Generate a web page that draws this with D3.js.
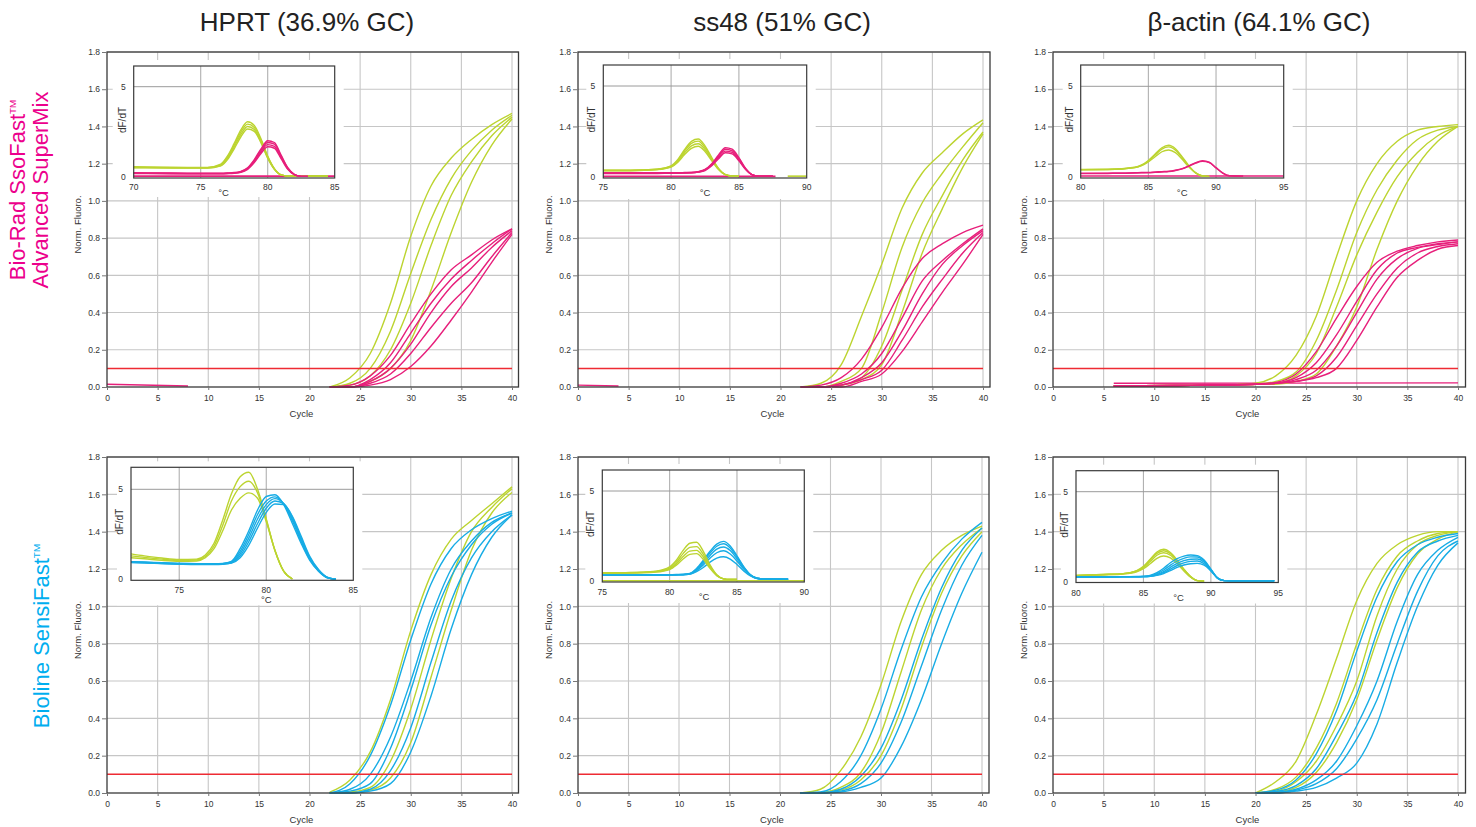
<!DOCTYPE html>
<html><head><meta charset="utf-8">
<script src="https://cdn.jsdelivr.net/npm/d3@7"></script>
<style>
html,body{margin:0;padding:0;background:#fff;}
svg{display:block;font-family:"Liberation Sans",Arial,Helvetica,sans-serif;}
</style></head><body>
<svg id="chart" width="1476" height="827"></svg>
<script>
// ================= DATA =================
const columnTitles = ["HPRT (36.9% GC)", "ss48 (51% GC)", "β-actin (64.1% GC)"];
const rowLabelTop = ["Bio-Rad SsoFast", "Advanced SuperMix"];
const rowLabelBottom = ["Bioline SensiFast"];
const xTicks = [0, 5, 10, 15, 20, 25, 30, 35, 40];
const yTicks = [0, 0.2, 0.4, 0.6, 0.8, 1.0, 1.2, 1.4, 1.6, 1.8];
const insetYTicks = [0, 5];
const threshold = 0.1;

// amplification cycles
const cyclesStd = [22, 24, 26, 28, 30, 32, 34, 36, 38, 40];
const cyclesActinTop = [6, 12, 18, 20, 22, 24, 26, 28, 30, 32, 34, 36, 38, 40];
const cyclesActinBottom = [20, 22, 24, 26, 28, 30, 32, 34, 36, 38, 40];

// HPRT, Bio-Rad
const hprtTopGreen = [
  [0, 0.05, 0.18, 0.45, 0.81, 1.08, 1.23, 1.33, 1.41, 1.47],
  [0, 0.02, 0.10, 0.30, 0.61, 0.90, 1.12, 1.27, 1.38, 1.46],
  [0, 0.01, 0.06, 0.20, 0.45, 0.76, 1.03, 1.21, 1.35, 1.45],
  [0, 0, 0.03, 0.10, 0.25, 0.52, 0.83, 1.10, 1.30, 1.44]];
const hprtTopMagenta = [
  [0, 0.01, 0.06, 0.17, 0.34, 0.50, 0.63, 0.71, 0.79, 0.85],
  [0, 0, 0.04, 0.13, 0.29, 0.45, 0.58, 0.68, 0.77, 0.85],
  [0, 0, 0.03, 0.10, 0.23, 0.40, 0.54, 0.64, 0.75, 0.84],
  [0, 0, 0.02, 0.07, 0.18, 0.32, 0.45, 0.56, 0.70, 0.83],
  [0, 0, 0.01, 0.04, 0.11, 0.22, 0.36, 0.51, 0.67, 0.82]];
const hprtTopNtcCycles = [0, 8];
const hprtTopNtc = [0.015, 0.005];

// ss48, Bio-Rad
const ss48TopGreen = [
  [0, 0.02, 0.12, 0.38, 0.66, 0.96, 1.15, 1.26, 1.36, 1.435],
  [0, 0, 0.03, 0.10, 0.40, 0.75, 0.99, 1.15, 1.29, 1.42],
  [0, 0, 0.01, 0.05, 0.22, 0.52, 0.82, 1.03, 1.22, 1.37],
  [0, 0, 0.01, 0.04, 0.12, 0.40, 0.72, 0.96, 1.18, 1.36]];
const ss48TopMagenta = [
  [0, 0.01, 0.05, 0.15, 0.32, 0.53, 0.69, 0.77, 0.83, 0.87],
  [0, 0, 0.02, 0.07, 0.18, 0.37, 0.57, 0.68, 0.77, 0.85],
  [0, 0, 0.01, 0.05, 0.13, 0.30, 0.50, 0.66, 0.76, 0.84],
  [0, 0, 0.01, 0.04, 0.09, 0.25, 0.43, 0.58, 0.72, 0.83],
  [0, 0, 0, 0.03, 0.07, 0.19, 0.35, 0.51, 0.66, 0.82]];
const ss48TopNtcCycles = [0, 4];
const ss48TopNtc = [0.01, 0.005];

// beta-actin, Bio-Rad
const actinTopGreen = [
  [0.005, 0.008, 0.012, 0.02, 0.06, 0.17, 0.38, 0.70, 1.00, 1.20, 1.32, 1.38, 1.40, 1.41],
  [0.005, 0.008, 0.012, 0.015, 0.03, 0.08, 0.25, 0.52, 0.83, 1.06, 1.22, 1.33, 1.38, 1.40],
  [0.005, 0.008, 0.012, 0.015, 0.02, 0.06, 0.18, 0.43, 0.71, 0.94, 1.13, 1.26, 1.35, 1.40],
  [0.005, 0.008, 0.012, 0.015, 0.015, 0.03, 0.07, 0.22, 0.43, 0.74, 1.00, 1.19, 1.32, 1.40]];
const actinTopMagenta = [
  [0.005, 0.008, 0.012, 0.015, 0.025, 0.07, 0.19, 0.37, 0.54, 0.67, 0.73, 0.76, 0.78, 0.79],
  [0.005, 0.008, 0.012, 0.015, 0.02, 0.05, 0.13, 0.28, 0.46, 0.63, 0.72, 0.75, 0.77, 0.78],
  [0.005, 0.008, 0.012, 0.015, 0.02, 0.04, 0.09, 0.22, 0.40, 0.58, 0.69, 0.745, 0.765, 0.78],
  [0.005, 0.008, 0.012, 0.015, 0.02, 0.03, 0.06, 0.16, 0.33, 0.50, 0.64, 0.72, 0.755, 0.77],
  [0.005, 0.008, 0.012, 0.015, 0.02, 0.03, 0.05, 0.10, 0.25, 0.43, 0.59, 0.68, 0.74, 0.76]];
const actinTopNtcCycles = [6, 40];
const actinTopNtc = [0.02, 0.022];

// HPRT, Bioline
const hprtBotGreen = [
  [0.005, 0.07, 0.22, 0.50, 0.87, 1.17, 1.36, 1.46, 1.55, 1.64],
  [0, 0.005, 0.03, 0.17, 0.45, 0.82, 1.15, 1.40, 1.53, 1.63],
  [0, 0, 0.015, 0.08, 0.27, 0.62, 0.98, 1.30, 1.50, 1.61]];
const hprtBotCyan = [
  [0, 0.05, 0.20, 0.47, 0.82, 1.12, 1.31, 1.41, 1.47, 1.51],
  [0, 0.02, 0.10, 0.30, 0.60, 0.94, 1.20, 1.35, 1.45, 1.50],
  [0, 0.01, 0.05, 0.24, 0.55, 0.90, 1.16, 1.33, 1.44, 1.50],
  [0, 0, 0.02, 0.12, 0.35, 0.70, 1.03, 1.26, 1.40, 1.49],
  [0, 0, 0.01, 0.05, 0.22, 0.52, 0.88, 1.17, 1.37, 1.49]];

// ss48, Bioline
const ss48BotGreen = [
  [0, 0.02, 0.12, 0.30, 0.58, 0.92, 1.17, 1.30, 1.38, 1.43],
  [0, 0.003, 0.03, 0.11, 0.32, 0.65, 0.98, 1.20, 1.33, 1.42],
  [0, 0, 0.015, 0.07, 0.20, 0.45, 0.78, 1.07, 1.27, 1.40]];
const ss48BotCyan = [
  [0, 0.005, 0.06, 0.20, 0.45, 0.77, 1.05, 1.23, 1.36, 1.45],
  [0, 0, 0.02, 0.09, 0.24, 0.50, 0.82, 1.10, 1.30, 1.42],
  [0, 0, 0.01, 0.05, 0.16, 0.38, 0.68, 0.98, 1.22, 1.38],
  [0, 0, 0.005, 0.03, 0.08, 0.25, 0.50, 0.80, 1.07, 1.29]];

// beta-actin, Bioline
const actinBotGreen = [
  [0, 0.06, 0.17, 0.42, 0.72, 1.03, 1.23, 1.33, 1.38, 1.40, 1.40],
  [0, 0.02, 0.085, 0.24, 0.48, 0.80, 1.09, 1.27, 1.35, 1.39, 1.40],
  [0, 0.01, 0.06, 0.17, 0.36, 0.60, 0.95, 1.20, 1.33, 1.38, 1.40],
  [0, 0.005, 0.03, 0.11, 0.27, 0.50, 0.82, 1.10, 1.28, 1.36, 1.40]];
const actinBotCyan = [
  [0, 0.015, 0.07, 0.21, 0.44, 0.76, 1.05, 1.24, 1.33, 1.37, 1.39],
  [0, 0.008, 0.04, 0.13, 0.31, 0.53, 0.86, 1.13, 1.29, 1.35, 1.38],
  [0, 0.004, 0.02, 0.07, 0.17, 0.36, 0.60, 0.92, 1.17, 1.30, 1.37],
  [0, 0, 0.015, 0.05, 0.13, 0.29, 0.50, 0.80, 1.08, 1.27, 1.35],
  [0, 0, 0.01, 0.03, 0.08, 0.16, 0.37, 0.70, 1.00, 1.22, 1.34]];

// ---- melt curves (insets) ----
const meltTempsHprtTop = [70, 72, 74, 75.5, 76.5, 77, 77.5, 78, 78.5, 79, 79.5, 80, 80.5, 81, 81.5, 82, 82.5, 83, 84.5];
const meltHprtTopGreen = [
  [0.55, 0.53, 0.52, 0.52, 0.70, 1.15, 1.85, 2.60, 3.05, 2.85, 2.10, 1.15, 0.45, 0.10, 0.04, 0.04, 0.04, 0.04, 0.04],
  [0.53, 0.51, 0.50, 0.50, 0.66, 1.08, 1.75, 2.48, 2.92, 2.74, 2.02, 1.10, 0.43, 0.10, 0.04, 0.04, 0.04, 0.04, 0.04],
  [0.51, 0.50, 0.49, 0.49, 0.62, 1.00, 1.65, 2.35, 2.79, 2.62, 1.95, 1.06, 0.42, 0.10, 0.04, 0.04, 0.04, 0.04, 0.04],
  [0.50, 0.49, 0.48, 0.48, 0.60, 0.95, 1.55, 2.22, 2.65, 2.52, 1.88, 1.03, 0.41, 0.10, 0.04, 0.04, 0.04, 0.04, 0.04]];
const meltHprtTopMagenta = [
  [0.22, 0.21, 0.20, 0.20, 0.20, 0.21, 0.23, 0.30, 0.50, 0.95, 1.55, 2.00, 1.90, 1.20, 0.50, 0.12, 0.02, 0.02, null],
  [0.20, 0.19, 0.18, 0.18, 0.18, 0.19, 0.21, 0.28, 0.47, 0.90, 1.47, 1.90, 1.81, 1.14, 0.47, 0.12, 0.02, 0.02, null],
  [0.19, 0.18, 0.17, 0.17, 0.17, 0.18, 0.20, 0.26, 0.44, 0.84, 1.38, 1.78, 1.69, 1.07, 0.44, 0.11, 0.02, 0.02, null],
  [0.18, 0.17, 0.16, 0.16, 0.16, 0.17, 0.19, 0.24, 0.41, 0.79, 1.29, 1.66, 1.58, 1.00, 0.41, 0.10, 0.02, 0.02, null]];
const meltHprtTopNtcTemps = [70, 85];
const meltHprtTopNtc = [0.03, 0.03];

const meltTempsSs48Top = [75, 77, 79, 80, 80.5, 81, 81.5, 82, 82.5, 83, 83.5, 84, 84.5, 85, 85.5, 86, 86.5, 87.5];
const meltSs48TopGreen = [
  [0.36, 0.36, 0.42, 0.60, 0.95, 1.50, 1.95, 2.08, 1.70, 1.05, 0.45, 0.12, 0.04, 0.03, null, null, null, null],
  [0.35, 0.35, 0.41, 0.58, 0.90, 1.42, 1.84, 1.96, 1.60, 1.00, 0.43, 0.12, 0.04, 0.03, null, null, null, null],
  [0.34, 0.34, 0.40, 0.55, 0.85, 1.32, 1.70, 1.82, 1.50, 0.94, 0.41, 0.11, 0.04, 0.03, null, null, null, null],
  [0.33, 0.33, 0.39, 0.53, 0.80, 1.22, 1.56, 1.68, 1.39, 0.88, 0.39, 0.11, 0.04, 0.03, null, null, null, null]];
const meltSs48TopMagenta = [
  [0.21, 0.21, 0.21, 0.22, 0.22, 0.23, 0.24, 0.28, 0.40, 0.72, 1.20, 1.60, 1.52, 1.05, 0.45, 0.10, 0.03, 0.03],
  [0.20, 0.20, 0.20, 0.21, 0.21, 0.22, 0.23, 0.27, 0.38, 0.68, 1.13, 1.51, 1.43, 0.99, 0.43, 0.10, 0.03, 0.03],
  [0.19, 0.19, 0.19, 0.20, 0.20, 0.21, 0.22, 0.26, 0.36, 0.64, 1.06, 1.41, 1.34, 0.93, 0.41, 0.10, 0.03, 0.03],
  [0.18, 0.18, 0.18, 0.19, 0.19, 0.20, 0.21, 0.25, 0.34, 0.60, 0.99, 1.32, 1.26, 0.88, 0.39, 0.10, 0.03, 0.03]];
const meltSs48TopNtcTemps = [75, 87.7];
const meltSs48TopNtc = [0.02, 0.02];
const meltSs48TopNtc2Temps = [88.6, 90];
const meltSs48TopNtc2 = [0.03, 0.03];

const meltTempsActinTop = [80, 82, 84, 84.5, 85, 85.5, 86, 86.5, 87, 87.5, 88, 88.5, 89, 89.5, 90, 90.5, 91, 92];
const meltActinTopGreen = [
  [0.40, 0.41, 0.52, 0.65, 0.90, 1.25, 1.60, 1.74, 1.55, 1.10, 0.60, 0.22, 0.04, 0.02, null, null, null, null],
  [0.39, 0.40, 0.51, 0.63, 0.87, 1.20, 1.53, 1.65, 1.47, 1.05, 0.57, 0.21, 0.04, 0.02, null, null, null, null],
  [0.38, 0.39, 0.50, 0.61, 0.82, 1.10, 1.38, 1.48, 1.33, 0.96, 0.53, 0.20, 0.04, 0.02, null, null, null, null]];
const meltActinTopMagenta = [
  [0.19, 0.20, 0.22, 0.23, 0.24, 0.26, 0.28, 0.30, 0.36, 0.45, 0.60, 0.78, 0.88, 0.80, 0.50, 0.20, 0.05, 0.03],
  [0.17, 0.18, 0.20, 0.21, 0.22, 0.24, 0.26, 0.28, 0.34, 0.43, 0.58, 0.75, 0.85, 0.78, 0.49, 0.20, 0.05, 0.03]];
const meltActinTopNtcTemps = [80, 95];
const meltActinTopNtc = [0.04, 0.04];

const meltTempsHprtBot = [72.23, 73, 74, 75, 76, 76.5, 77, 77.5, 78, 78.5, 79, 79.5, 80, 80.5, 81, 81.5, 82, 82.5, 83, 83.5, 84];
const meltHprtBotGreen = [
  [1.41, 1.30, 1.18, 1.10, 1.12, 1.35, 2.00, 3.30, 4.75, 5.70, 5.95, 5.00, 3.35, 1.60, 0.45, 0.02, null, null, null, null, null],
  [1.30, 1.22, 1.12, 1.05, 1.07, 1.27, 1.85, 3.00, 4.35, 5.15, 5.45, 4.80, 3.30, 1.60, 0.45, 0.02, null, null, null, null, null],
  [1.20, 1.14, 1.05, 1.00, 1.02, 1.20, 1.70, 2.70, 3.85, 4.50, 4.80, 4.50, 3.20, 1.60, 0.45, 0.02, null, null, null, null, null]];
const meltHprtBotCyan = [
  [0.98, 0.96, 0.92, 0.89, 0.87, 0.86, 0.86, 0.88, 1.00, 1.70, 2.70, 3.85, 4.60, 4.70, 4.15, 3.10, 2.00, 1.05, 0.45, 0.08, 0.00],
  [0.96, 0.94, 0.90, 0.87, 0.85, 0.85, 0.85, 0.87, 0.97, 1.55, 2.50, 3.60, 4.35, 4.58, 4.20, 3.25, 2.10, 1.10, 0.47, 0.09, 0.00],
  [0.95, 0.93, 0.89, 0.86, 0.84, 0.84, 0.84, 0.86, 0.94, 1.42, 2.30, 3.35, 4.15, 4.48, 4.20, 3.35, 2.20, 1.15, 0.50, 0.10, 0.00],
  [0.94, 0.92, 0.88, 0.85, 0.83, 0.83, 0.83, 0.85, 0.92, 1.30, 2.10, 3.10, 3.95, 4.35, 4.20, 3.45, 2.30, 1.20, 0.52, 0.11, 0.00],
  [0.93, 0.91, 0.87, 0.84, 0.82, 0.82, 0.82, 0.84, 0.90, 1.20, 1.90, 2.85, 3.72, 4.18, 4.15, 3.50, 2.40, 1.28, 0.55, 0.12, 0.00]];

const meltTempsSs48Bot = [75, 77, 79, 80, 80.5, 81, 81.5, 82, 82.5, 83, 83.5, 84, 84.5, 85, 85.5, 86, 86.5, 87, 88.8];
const meltSs48BotGreen = [
  [0.46, 0.47, 0.55, 0.78, 1.15, 1.70, 2.10, 2.15, 1.65, 0.90, 0.35, 0.12, 0.08, 0.08, null, null, null, null, null],
  [0.45, 0.46, 0.53, 0.72, 1.05, 1.52, 1.87, 1.91, 1.48, 0.82, 0.33, 0.12, 0.08, 0.08, null, null, null, null, null],
  [0.44, 0.45, 0.52, 0.68, 0.96, 1.36, 1.66, 1.70, 1.33, 0.76, 0.31, 0.12, 0.08, 0.08, null, null, null, null, null],
  [0.43, 0.44, 0.50, 0.64, 0.88, 1.22, 1.48, 1.52, 1.20, 0.70, 0.30, 0.12, 0.08, 0.08, null, null, null, null, null]];
const meltSs48BotCyan = [
  [0.33, 0.33, 0.34, 0.35, 0.36, 0.37, 0.42, 0.70, 1.15, 1.65, 2.05, 2.20, 1.95, 1.40, 0.80, 0.35, 0.15, 0.11, 0.10],
  [0.32, 0.32, 0.33, 0.34, 0.35, 0.36, 0.41, 0.66, 1.08, 1.55, 1.93, 2.07, 1.84, 1.33, 0.77, 0.34, 0.15, 0.11, 0.10],
  [0.32, 0.32, 0.33, 0.34, 0.35, 0.36, 0.40, 0.62, 0.99, 1.42, 1.77, 1.89, 1.69, 1.23, 0.72, 0.33, 0.15, 0.11, 0.10],
  [0.31, 0.31, 0.32, 0.33, 0.34, 0.35, 0.39, 0.58, 0.89, 1.27, 1.57, 1.68, 1.50, 1.11, 0.66, 0.31, 0.14, 0.11, 0.10],
  [0.31, 0.31, 0.32, 0.33, 0.34, 0.35, 0.38, 0.52, 0.75, 1.05, 1.27, 1.35, 1.22, 0.92, 0.56, 0.28, 0.14, 0.11, 0.10]];
const meltSs48BotNtcTemps = [75, 90];
const meltSs48BotNtc = [0.01, 0.01];

const meltTempsActinBot = [80, 82, 83.5, 84.5, 85, 85.5, 86, 86.5, 87, 87.5, 88, 88.5, 89, 89.5, 90, 90.5, 91, 92, 94.7];
const meltActinBotGreen = [
  [0.35, 0.40, 0.45, 0.62, 0.85, 1.25, 1.65, 1.80, 1.62, 1.20, 0.70, 0.28, 0.06, 0.03, null, null, null, null, null],
  [0.35, 0.40, 0.45, 0.60, 0.82, 1.20, 1.57, 1.72, 1.56, 1.16, 0.68, 0.28, 0.06, 0.03, null, null, null, null, null],
  [0.34, 0.39, 0.44, 0.58, 0.78, 1.12, 1.47, 1.61, 1.47, 1.10, 0.65, 0.27, 0.06, 0.03, null, null, null, null, null],
  [0.33, 0.38, 0.43, 0.55, 0.72, 1.00, 1.30, 1.43, 1.32, 1.00, 0.60, 0.25, 0.06, 0.03, null, null, null, null, null]];
const meltActinBotCyan = [
  [0.27, 0.27, 0.28, 0.29, 0.30, 0.35, 0.50, 0.75, 1.05, 1.28, 1.42, 1.48, 1.45, 1.20, 0.70, 0.20, 0.06, 0.05, 0.05],
  [0.27, 0.27, 0.28, 0.28, 0.29, 0.33, 0.45, 0.65, 0.92, 1.15, 1.30, 1.38, 1.37, 1.15, 0.68, 0.20, 0.06, 0.05, 0.05],
  [0.26, 0.26, 0.27, 0.28, 0.28, 0.31, 0.40, 0.56, 0.80, 1.02, 1.17, 1.25, 1.26, 1.08, 0.65, 0.20, 0.06, 0.05, 0.05],
  [0.26, 0.26, 0.27, 0.27, 0.28, 0.30, 0.37, 0.50, 0.70, 0.90, 1.05, 1.13, 1.15, 1.00, 0.62, 0.20, 0.06, 0.05, 0.05],
  [0.26, 0.26, 0.27, 0.27, 0.28, 0.30, 0.35, 0.45, 0.62, 0.80, 0.93, 1.00, 1.02, 0.92, 0.60, 0.20, 0.06, 0.05, 0.05]];

// ================= STYLE / LAYOUT =================
const GREEN = "#bcd430", MAGENTA = "#e71f7b", CYAN = "#17ace5", RED = "#ee2b33";
const GRID = "#c6c6c6", FRAME = "#3a3a3a", TXT = "#333";
const ROW_MAGENTA = "#ec008c", ROW_CYAN = "#00aeef";

const zip = (xs, ys) => xs.map((x, i) => [x, ys[i]]);

const panels = [
  { x0: 107, x40: 512, yb: 387, yt: 52, fr: 518.5, cyc: cyclesStd,
    series: [[hprtTopGreen, GREEN], [hprtTopMagenta, MAGENTA]],
    extra: [[hprtTopNtcCycles, hprtTopNtc, MAGENTA]],
    inset: { l: 133.7, r: 334.7, tMin: 70, tMax: 85, y0: 176.7, y5: 86.7, top: 66, bot: 178, bgL: 21, bgB: 19, cT: 76.7, cDy: 18, lDy: 14,
      temps: meltTempsHprtTop, series: [[meltHprtTopGreen, GREEN], [meltHprtTopMagenta, MAGENTA]],
      extra: [[meltHprtTopNtcTemps, meltHprtTopNtc, MAGENTA]] } },
  { x0: 578, x40: 983, yb: 387, yt: 52, fr: 990, cyc: cyclesStd,
    series: [[ss48TopGreen, GREEN], [ss48TopMagenta, MAGENTA]],
    extra: [[ss48TopNtcCycles, ss48TopNtc, MAGENTA]],
    inset: { l: 603.3, r: 806.7, tMin: 75, tMax: 90, y0: 176.7, y5: 86, top: 65, bot: 178, bgL: 17, bgB: 21, cT: 82.5, cDy: 18, lDy: 14,
      temps: meltTempsSs48Top, series: [[meltSs48TopGreen, GREEN], [meltSs48TopMagenta, MAGENTA]],
      extra: [[meltSs48TopNtcTemps, meltSs48TopNtc, MAGENTA], [meltSs48TopNtc2Temps, meltSs48TopNtc2, GREEN]] } },
  { x0: 1053, x40: 1458, yb: 387, yt: 52, fr: 1465.5, cyc: cyclesActinTop,
    series: [[actinTopGreen, GREEN], [actinTopMagenta, MAGENTA]],
    extra: [[actinTopNtcCycles, actinTopNtc, MAGENTA]],
    inset: { l: 1080.7, r: 1283.7, tMin: 80, tMax: 95, y0: 176.7, y5: 86.3, top: 65, bot: 178, bgL: 18, bgB: 21, cT: 87.5, cDy: 18, lDy: 14,
      temps: meltTempsActinTop, series: [[meltActinTopGreen, GREEN], [meltActinTopMagenta, MAGENTA]],
      extra: [[meltActinTopNtcTemps, meltActinTopNtc, MAGENTA]] } },
  { x0: 107, x40: 512, yb: 793, yt: 457, fr: 518.5, cyc: cyclesStd,
    series: [[hprtBotGreen, GREEN], [hprtBotCyan, CYAN]], extra: [],
    inset: { l: 131, r: 353.3, tMin: 72.23, tMax: 85, y0: 579.3, y5: 489.3, top: 467.3, bot: 580.3, bgL: 14, bgB: 25, cT: 80, cDy: 23, lDy: 15,
      temps: meltTempsHprtBot, series: [[meltHprtBotGreen, GREEN], [meltHprtBotCyan, CYAN]], extra: [] } },
  { x0: 578, x40: 982, yb: 793, yt: 457, fr: 989, cyc: cyclesStd,
    series: [[ss48BotGreen, GREEN], [ss48BotCyan, CYAN]], extra: [],
    inset: { l: 602.3, r: 804.3, tMin: 75, tMax: 90, y0: 581, y5: 491, top: 470, bot: 582, bgL: 17, bgB: 21, cT: 82.55, cDy: 18, lDy: 15,
      temps: meltTempsSs48Bot, series: [[meltSs48BotCyan, CYAN], [meltSs48BotGreen, GREEN]],
      extra: [[meltSs48BotNtcTemps, meltSs48BotNtc, GREEN]] } },
  { x0: 1053, x40: 1458, yb: 793, yt: 457, fr: 1465.5, cyc: cyclesActinBottom,
    series: [[actinBotGreen, GREEN], [actinBotCyan, CYAN]], extra: [],
    inset: { l: 1076, r: 1278.3, tMin: 80, tMax: 95, y0: 581.7, y5: 491.7, top: 470.7, bot: 582.5, bgL: 15, bgB: 21, cT: 87.6, cDy: 18, lDy: 15,
      temps: meltTempsActinBot, series: [[meltActinBotGreen, GREEN], [meltActinBotCyan, CYAN]], extra: [] } }
];

const titleX = [307, 782, 1259];

// ================= DRAW =================
const svg = d3.select("#chart");

columnTitles.forEach((t, i) => {
  svg.append("text").attr("x", titleX[i]).attr("y", 31).attr("text-anchor", "middle")
    .attr("font-size", 26).attr("fill", "#222").text(t);
});

function rowLabel(lines, cx, cy, color, size) {
  lines.forEach((ln, i) => {
    const t = svg.append("text").attr("transform", `translate(${cx[i]},${cy}) rotate(-90)`)
      .attr("text-anchor", "middle").attr("font-size", size).attr("fill", color);
    t.append("tspan").text(ln);
    if (i === 0) t.append("tspan").attr("font-size", size * 0.45).attr("dy", -size * 0.42).text("TM");
  });
}
rowLabel(rowLabelTop, [25, 48], 190, ROW_MAGENTA, 22);
rowLabel(rowLabelBottom, [49], 636, ROW_CYAN, 22);

panels.forEach(p => {
  const x = d3.scaleLinear().domain([0, 40]).range([p.x0, p.x40]);
  const y = d3.scaleLinear().domain([0, 1.8]).range([p.yb, p.yt]);
  const g = svg.append("g");

  // grid
  g.selectAll(null).data(xTicks.filter(d => d > 0)).enter().append("line")
    .attr("x1", d => x(d)).attr("x2", d => x(d)).attr("y1", p.yb).attr("y2", p.yt)
    .attr("stroke", GRID).attr("stroke-width", 1.1);
  g.selectAll(null).data(yTicks.filter(d => d > 0)).enter().append("line")
    .attr("x1", p.x0).attr("x2", p.fr).attr("y1", d => y(d)).attr("y2", d => y(d))
    .attr("stroke", GRID).attr("stroke-width", 1.1);

  const line = d3.line().defined(d => d[1] != null).x(d => x(d[0])).y(d => y(d[1])).curve(d3.curveMonotoneX);

  p.extra.forEach(([cs, vs, col]) => {
    g.append("path").attr("d", line(zip(cs, vs))).attr("fill", "none").attr("stroke", col).attr("stroke-width", 1.4);
  });
  p.series.forEach(([set, col]) => {
    set.forEach(vals => {
      g.append("path").attr("d", line(zip(p.cyc, vals))).attr("fill", "none")
        .attr("stroke", col).attr("stroke-width", 1.4);
    });
  });

  // threshold
  g.append("line").attr("x1", x(0)).attr("x2", x(40)).attr("y1", y(threshold)).attr("y2", y(threshold))
    .attr("stroke", RED).attr("stroke-width", 1.5);

  // frame
  g.append("rect").attr("x", p.x0).attr("y", p.yt).attr("width", p.fr - p.x0).attr("height", p.yb - p.yt)
    .attr("fill", "none").attr("stroke", FRAME).attr("stroke-width", 1.3);

  // axes
  const ax = g.append("g").attr("transform", `translate(0,${p.yb})`)
    .call(d3.axisBottom(x).tickValues(xTicks).tickSize(3).tickPadding(5).tickFormat(d3.format("d")));
  const ay = g.append("g").attr("transform", `translate(${p.x0},0)`)
    .call(d3.axisLeft(y).tickValues(yTicks).tickSize(5).tickPadding(2).tickFormat(d3.format(".1f")));
  [ax, ay].forEach(a => {
    a.select(".domain").remove();
    a.selectAll("line").attr("stroke", "#777");
    a.selectAll("text").attr("font-size", 8.5).attr("fill", TXT).attr("font-family", null);
    a.attr("font-family", null);
  });

  g.append("text").attr("transform", `translate(${p.x0 - 26.5},${(p.yb + p.yt) / 2 + 5}) rotate(-90)`)
    .attr("text-anchor", "middle").attr("font-size", 9.5).attr("fill", TXT).text("Norm. Fluoro.");
  g.append("text").attr("x", (p.x0 + p.x40) / 2 - 8).attr("y", p.yb + 30).attr("text-anchor", "middle")
    .attr("font-size", 9.5).attr("fill", TXT).text("Cycle");

  // ---- inset ----
  const s = p.inset;
  const ix = d3.scaleLinear().domain([s.tMin, s.tMax]).range([s.l, s.r]);
  const iy = d3.scaleLinear().domain([0, 5]).range([s.y0, s.y5]);
  const ig = svg.append("g");
  ig.append("rect").attr("x", s.l - s.bgL).attr("y", s.top - 6).attr("width", s.r - s.l + s.bgL + 9)
    .attr("height", s.bot - s.top + 6 + s.bgB).attr("fill", "#fff");
  const iTicks = d3.range(Math.ceil(s.tMin / 5) * 5, s.tMax + 0.01, 5);
  ig.selectAll(null).data(iTicks.filter(t => t > s.tMin + 0.5 && t < s.tMax - 0.5)).enter().append("line")
    .attr("x1", d => ix(d)).attr("x2", d => ix(d)).attr("y1", s.top).attr("y2", s.bot)
    .attr("stroke", "#b0b0b0").attr("stroke-width", 1.1);
  ig.append("line").attr("x1", s.l).attr("x2", s.r).attr("y1", iy(5)).attr("y2", iy(5))
    .attr("stroke", "#9a9a9a").attr("stroke-width", 1);

  const iline = d3.line().defined(d => d[1] != null).x(d => ix(d[0])).y(d => iy(d[1])).curve(d3.curveMonotoneX);
  s.extra.forEach(([ts, vs, col]) => {
    ig.append("path").attr("d", iline(zip(ts, vs))).attr("fill", "none").attr("stroke", col).attr("stroke-width", 1.6);
  });
  s.series.forEach(([set, col]) => {
    set.forEach(vals => {
      ig.append("path").attr("d", iline(zip(s.temps, vals))).attr("fill", "none")
        .attr("stroke", col).attr("stroke-width", 1.4);
    });
  });
  ig.append("rect").attr("x", s.l).attr("y", s.top).attr("width", s.r - s.l).attr("height", s.bot - s.top)
    .attr("fill", "none").attr("stroke", FRAME).attr("stroke-width", 1.2);

  ig.selectAll(null).data(iTicks).enter().append("text")
    .attr("x", d => ix(d)).attr("y", s.bot + s.lDy - 2).attr("text-anchor", "middle")
    .attr("font-size", 8.5).attr("fill", TXT).text(d => d3.format("d")(d));
  ig.selectAll(null).data(insetYTicks).enter().append("text")
    .attr("x", s.l - 8).attr("y", d => iy(d) + 3).attr("text-anchor", "end")
    .attr("font-size", 8.5).attr("fill", TXT).text(d => d);
  ig.append("text").attr("transform", `translate(${s.l - 8},${(s.top + s.bot) / 2 - 2}) rotate(-90)`)
    .attr("text-anchor", "middle").attr("font-size", 10).attr("fill", TXT).text("dF/dT");
  ig.append("text").attr("x", ix(s.cT)).attr("y", s.bot + s.cDy).attr("text-anchor", "middle")
    .attr("font-size", 9.5).attr("fill", TXT).text("°C");
});
</script>
</body></html>
